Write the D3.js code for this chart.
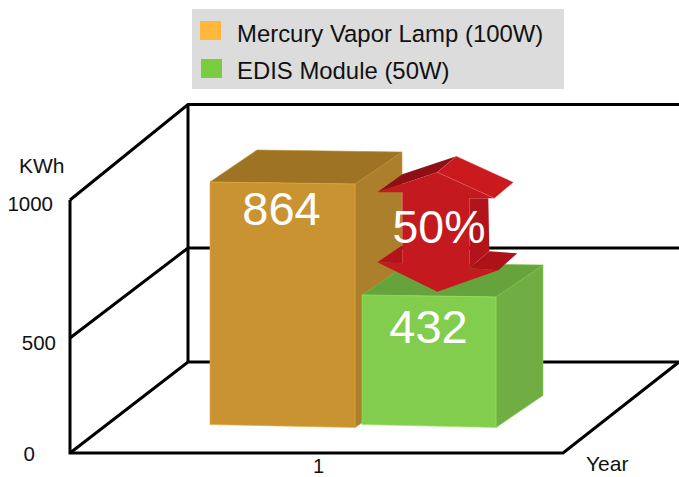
<!DOCTYPE html>
<html>
<head>
<meta charset="utf-8">
<title>Energy use</title>
<script src="https://d3js.org/d3.v7.min.js"></script>
<style>
  html, body { margin: 0; padding: 0; background: #fff; }
  svg { display: block; font-family: 'Liberation Sans', Arial, sans-serif; }
</style>
</head>
<body>
<svg id="chart" width="679" height="477"></svg>
<script>
const categories = ['1']
const seriesNames = ['Mercury Vapor Lamp (100W)', 'EDIS Module (50W)']
const seriesValues = [864, 432]
const yTicks = [0, 500, 1000]
const savingLabel = '50%'
const yTitle = 'KWh'
const xTitle = 'Year'

const legendColors = ['#ffb73d', '#7acc40']
const frontColors = ['#ca9331', '#82cd4e']
const topColors = ['#9e7324', '#67a33c']
const sideColors = ['#ab7f2b', '#70ad42']

const svg = d3.select('#chart')
const line = d3.line()

// the value axis is not even in the picture, so the scales have a middle stop
const yFront = d3.scaleLinear().domain(yTicks).range([453, 338, 200])
const yBack = d3.scaleLinear().domain(yTicks).range([362, 248, 104.5])
const yBar = d3.scaleLinear().domain([0, seriesValues[1], seriesValues[0]]).range([427.5, 297, 184])
const xBar = d3.scaleOrdinal().domain(seriesNames).range([210, 362])
const barWidth = d3.scaleOrdinal().domain(seriesNames).range([145, 134])
const xCategory = d3.scalePoint().domain(categories).range([318, 318])

const frontX = 70
const backX = 188
const floorEndX = 563
const depth = [47, -32]

/**
 * Draws the walls and the floor behind the bars.
 */
function drawFrame () {
  const g = svg.append('g')
    .attr('fill', 'none')
    .attr('stroke', '#000')
    .attr('stroke-width', 3)

  yTicks.forEach(function (t) {
    g.append('path').attr('d', line([
      [frontX, yFront(t)], [backX, yBack(t)], [679, yBack(t)]
    ]))
  })

  g.append('path').attr('d', line([[frontX, yFront(1000)], [frontX, yFront(0)], [floorEndX, yFront(0)], [679, yBack(0)]]))
  g.append('path').attr('d', line([[backX, yBack(1000)], [backX, yBack(0)]]))
}

/**
 * Draws one box of the 3D bar chart.
 *
 * @param {string} name The series name
 * @param {number} value The series value
 * @param {number} i The series index
 */
function drawBar (name, value, i) {
  const x0 = xBar(name)
  const x1 = x0 + barWidth(name)
  const top = yBar(value)
  const base = yBar(0)
  const g = svg.append('g').attr('stroke-width', 0.6)

  g.append('path')
    .attr('d', line([[x1, top], [x1 + depth[0], top + depth[1]], [x1 + depth[0], base + depth[1]], [x1, base]]) + 'Z')
    .attr('fill', sideColors[i])
    .attr('stroke', d3.color(sideColors[i]).brighter(0.5))
  g.append('path')
    .attr('d', line([[x0, top - 2], [x0 + depth[0], top - 2 + depth[1]], [x1 + depth[0], top + depth[1]], [x1, top]]) + 'Z')
    .attr('fill', topColors[i])
    .attr('stroke', d3.color(topColors[i]).brighter(0.5))
  g.append('path')
    .attr('d', line([[x0, top - 2], [x1, top], [x1, base], [x0, base - 3]]) + 'Z')
    .attr('fill', frontColors[i])
    .attr('stroke', d3.color(frontColors[i]).brighter(0.4))
}

/**
 * Draws the double arrow between the two bars. Offsets are from the top head's apex.
 *
 * @param {number} cx The x of the apex
 * @param {number} cy The y of the apex
 */
function drawArrow (cx, cy) {
  const faces = [
    { fill: '#8e1014', pts: [[-60, 20], [-35, 2], [19, -16], [0, 0]] },
    { fill: '#b3141b', pts: [[32, 26], [51, 26], [52, 79], [32, 96]] },
    { fill: '#ae1219', pts: [[32, 96], [52, 79], [80, 81], [61, 98]] },
    { fill: '#b3141b', pts: [[-60, 90], [-35, 73], [-35, 91]] },
    { fill: '#c4191f', pts: [[-60, 20], [0, 0], [57, 26], [32, 26], [32, 96], [61, 98], [0, 119.5], [-60, 90], [-35, 91], [-35, 20]] },
    { fill: '#cb1a1e', stroke: '#dc6a6d', pts: [[0, 0], [19, -16], [76, 10], [57, 26]] }
  ]
  svg.append('g')
    .attr('transform', 'translate(' + cx + ',' + cy + ')')
    .selectAll('path')
    .data(faces)
    .join('path')
    .attr('d', function (d) { return line(d.pts) + 'Z' })
    .attr('fill', function (d) { return d.fill })
    .attr('stroke', function (d) { return d.stroke || 'none' })
    .attr('stroke-width', 0.4)
}

/**
 * Draws the legend box above the chart.
 */
function drawLegend () {
  const g = svg.append('g')
  g.append('rect')
    .attr('x', 192).attr('y', 9)
    .attr('width', 372).attr('height', 80)
    .attr('fill', '#dcdcdc')

  const rowY = d3.scalePoint().domain(seriesNames).range([41, 78])

  g.selectAll('.swatch')
    .data(seriesNames)
    .join('rect')
    .attr('class', 'swatch')
    .attr('x', function (d, i) { return 200 + i })
    .attr('y', function (d) { return rowY(d) - 20 + (d === seriesNames[1] ? 1 : 0) })
    .attr('width', 21)
    .attr('height', 19)
    .attr('fill', function (d, i) { return legendColors[i] })

  g.selectAll('.legend-text')
    .data(seriesNames)
    .join('text')
    .attr('class', 'legend-text')
    .attr('x', 237)
    .attr('y', function (d) { return rowY(d) + 0.5 })
    .attr('font-size', 23.9)
    .attr('fill', '#111')
    .text(function (d) { return d })
}

/**
 * Draws the value axis and category axis labels.
 */
function drawAxes () {
  const labelEnd = { 0: 35, 500: 56, 1000: 53 }
  const labelDrop = { 0: 7, 500: 11, 1000: 10 }

  const y = svg.append('g').call(d3.axisLeft(yFront).tickValues(yTicks).tickSize(0).tickFormat(d3.format('d')))
  y.select('.domain').remove()
  y.selectAll('text')
    .attr('x', function (d) { return labelEnd[d] })
    .attr('y', function (d) { return labelDrop[d] })
    .attr('dy', 0)
    .attr('font-size', 20.5)
    .attr('font-family', 'Liberation Sans')
    .attr('fill', '#111')

  const x = svg.append('g').attr('transform', 'translate(0,' + yFront(0) + ')').call(d3.axisBottom(xCategory).tickSize(0))
  x.select('.domain').remove()
  x.selectAll('text')
    .attr('y', 19.5)
    .attr('dy', 0)
    .attr('font-size', 20)
    .attr('font-family', 'Liberation Sans')
    .attr('fill', '#111')

  svg.append('text').attr('x', 19).attr('y', 173).attr('font-size', 21).attr('fill', '#111').text(yTitle)
  svg.append('text').attr('x', 586).attr('y', 471).attr('font-size', 21).attr('fill', '#111').text(xTitle)
}

/**
 * Writes the big white labels on top of the bars and the arrow.
 */
function drawValueLabels () {
  const labelDrop = [41, 46]
  svg.selectAll('.value')
    .data(seriesValues)
    .join('text')
    .attr('class', 'value')
    .attr('x', function (d, i) { return xBar(seriesNames[i]) + barWidth(seriesNames[i]) / 2 - (i ? 0.5 : 1) })
    .attr('y', function (d, i) { return yBar(d) + labelDrop[i] })
    .attr('text-anchor', 'middle')
    .attr('font-size', 47)
    .attr('fill', '#fff')
    .text(function (d) { return d })

  svg.append('text')
    .attr('x', 439).attr('y', 243)
    .attr('text-anchor', 'middle')
    .attr('font-size', 46.5)
    .attr('fill', '#fff')
    .text(savingLabel)
}

drawFrame()
seriesNames.forEach(function (name, i) { drawBar(name, seriesValues[i], i) })
drawArrow(437.3, 172.3)
drawValueLabels()
drawLegend()
drawAxes()
</script>
</body>
</html>
